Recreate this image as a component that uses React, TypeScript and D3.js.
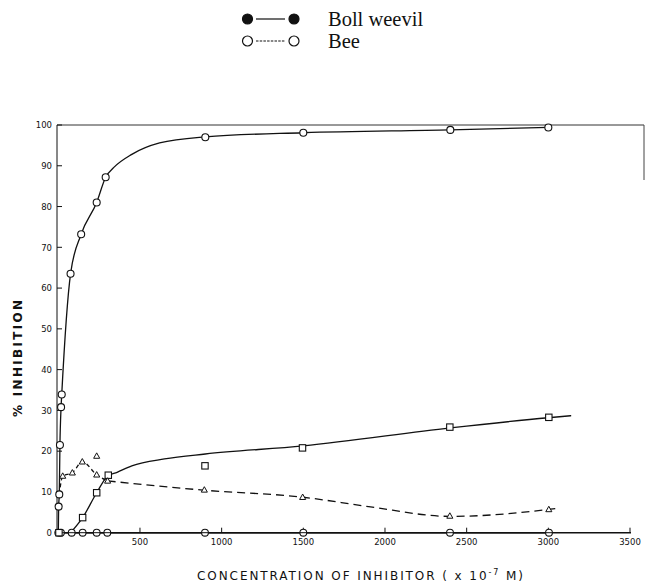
import * as React from "react";
import * as d3 from "d3";

// measured points (concentration x 10^-7 M, % inhibition)
const beeX = [2, 6, 10, 17, 21, 75, 140, 235, 290, 900, 1500, 2400, 3000];
const beeY = [6.4, 9.4, 21.5, 30.8, 33.9, 63.5, 73.2, 81, 87.2, 97.0, 98.1, 98.8, 99.4];
// hand drawn curve through the bee points
const beeFitX = [0, 2, 6, 10, 17, 21, 75, 140, 235, 290, 340, 450, 620, 900, 1500, 2400, 3000];
const beeFitY = [0, 6.4, 9.4, 21.5, 30.8, 33.9, 63.5, 73.2, 81, 87.2, 89.6, 92.8, 95.6, 97.1, 98.1, 98.8, 99.4];

const zeroX = [0, 16, 82, 149, 235, 300, 898, 1500, 2398, 3004];
const zeroY = [0, 0, 0, 0, 0, 0, 0, 0, 0, 0];

const squareX = [4, 149, 235, 306, 898, 1495, 2397, 3003];
const squareY = [0, 3.7, 9.8, 14.1, 16.4, 20.8, 25.9, 28.3];
const squareFitX = [75, 149, 235, 300, 360, 450, 650, 900, 1500, 2400, 3000, 3140];
const squareFitY = [0, 3.7, 9.8, 13.8, 14.8, 16.4, 18.1, 19.3, 21.3, 25.7, 28.2, 28.7];

const triX = [27, 86, 147, 235, 235, 302, 894, 1496, 2397, 3003];
const triY = [13.9, 14.7, 17.4, 18.8, 14.2, 12.7, 10.5, 8.7, 4.1, 5.7];
const triFitX = [302, 600, 900, 1500, 1900, 2400, 3000, 3060];
const triFitY = [12.7, 11.5, 10.4, 8.7, 6.4, 4.0, 5.7, 6.0];
const triLeadX = [6, 27, 86, 147, 235, 302];
const triLeadY = [9.4, 13.9, 14.7, 17.4, 14.2, 12.7];

const xTicks = [500, 1000, 1500, 2000, 2500, 3000, 3500];
const yTicks = [0, 10, 20, 30, 40, 50, 60, 70, 80, 90, 100];

const legendItems = ["Boll weevil", "Bee"];

const ink = "#111";

export default function App() {
  const x = d3.scaleLinear().domain([0, 3500]).range([58.3, 630]);
  const y = d3.scaleLinear().domain([0, 100]).range([532.7, 125]);

  const toPts = (xs: number[], ys: number[]) => xs.map((v, i) => [v, ys[i]] as [number, number]);
  const line = d3
    .line<[number, number]>()
    .x((d) => x(d[0]))
    .y((d) => y(d[1]))
    .curve(d3.curveMonotoneX);

  const tri = (cx: number, cy: number, s: number) =>
    `M${cx},${cy - s} L${cx + s * 0.95},${cy + s * 0.7} L${cx - s * 0.95},${cy + s * 0.7} Z`;

  return (
    <svg
      width={645}
      height={583}
      style={{ position: "absolute", left: 0, top: 0, background: "#fff" }}
    >
      {/* legend */}
      {legendItems.map((name, i) => {
        const ly = 19 + i * 22;
        const filled = i === 0;
        return (
          <g key={name}>
            <line
              x1={256}
              x2={285}
              y1={ly}
              y2={ly}
              stroke={ink}
              strokeWidth={1.2}
              strokeDasharray={filled ? undefined : "2.5,1.2"}
            />
            <circle cx={247.5} cy={ly} r={5} fill={filled ? ink : "#fff"} stroke={ink} strokeWidth={1.2} />
            <circle cx={294} cy={ly} r={5} fill={filled ? ink : "#fff"} stroke={ink} strokeWidth={1.2} />
            <text
              x={328}
              y={ly + 7}
              fontFamily="Liberation Serif, serif"
              fontSize={20.5}
              fill={ink}
            >
              {name}
            </text>
          </g>
        );
      })}

      {/* frame */}
      <line x1={57} x2={644} y1={y(100)} y2={y(100)} stroke="#333" strokeWidth={1} />
      <line x1={644} x2={644} y1={y(100)} y2={180} stroke="#444" strokeWidth={1} />
      <line x1={57} x2={57} y1={y(100)} y2={y(0)} stroke={ink} strokeWidth={1} />
      <line x1={57} x2={631} y1={y(0)} y2={y(0)} stroke={ink} strokeWidth={1.6} />

      {/* y ticks */}
      {yTicks.map((t) => (
        <g key={t}>
          <line x1={57} x2={62} y1={y(t)} y2={y(t)} stroke={ink} strokeWidth={1} />
          <text
            x={52}
            y={y(t) + 3.2}
            textAnchor="end"
            fontFamily="DejaVu Sans, sans-serif"
            fontSize={8.5}
            fill={ink}
          >
            {t}
          </text>
        </g>
      ))}

      {/* x ticks */}
      {xTicks.map((t) => (
        <g key={t}>
          <line x1={x(t)} x2={x(t)} y1={y(0)} y2={y(0) - 5} stroke={ink} strokeWidth={1} />
          <text
            x={x(t)}
            y={y(0) + 12}
            textAnchor="middle"
            fontFamily="DejaVu Sans, sans-serif"
            fontSize={8.5}
            fill={ink}
          >
            {t}
          </text>
        </g>
      ))}

      {/* axis titles */}
      <text
        x={197}
        y={580}
        textLength={326}
        lengthAdjust="spacing"
        fontFamily="DejaVu Sans, sans-serif"
        fontSize={12}
        fill={ink}
      >
        CONCENTRATION  OF  INHIBITOR   ( x 10
        <tspan dy={-5} fontSize={8}>-7</tspan>
        <tspan dy={5}> M)</tspan>
      </text>
      <text
        transform="translate(22,417) rotate(-90)"
        textLength={117}
        lengthAdjust="spacing"
        fontFamily="DejaVu Sans, sans-serif"
        fontWeight="bold"
        fontSize={12}
        fill={ink}
      >
        %  INHIBITION
      </text>

      {/* curves */}
      <path d={line(toPts(beeFitX, beeFitY)) || ""} fill="none" stroke={ink} strokeWidth={1.3} />
      <path d={line(toPts(squareFitX, squareFitY)) || ""} fill="none" stroke={ink} strokeWidth={1.3} />
      <path
        d={line(toPts(triLeadX, triLeadY)) || ""}
        fill="none"
        stroke={ink}
        strokeWidth={1.3}
        strokeDasharray="4,3"
      />
      <path
        d={line(toPts(triFitX, triFitY)) || ""}
        fill="none"
        stroke={ink}
        strokeWidth={1.3}
        strokeDasharray="8,5"
      />
      <path d={line(toPts(zeroX, zeroY)) || ""} fill="none" stroke={ink} strokeWidth={1.4} />

      {/* markers */}
      {zeroX.map((v, i) => (
        <g key={"z" + i}>
          <circle cx={x(v)} cy={y(zeroY[i])} r={3.4} fill="#fff" stroke={ink} strokeWidth={1.1} />
          <line x1={x(v) - 3.4} x2={x(v) + 3.4} y1={y(zeroY[i])} y2={y(zeroY[i])} stroke={ink} strokeWidth={1} />
        </g>
      ))}
      {beeX.map((v, i) => (
        <circle key={"b" + i} cx={x(v)} cy={y(beeY[i])} r={3.5} fill="#fff" stroke={ink} strokeWidth={1.1} />
      ))}
      {squareX.map((v, i) => (
        <rect
          key={"s" + i}
          x={x(v) - 3.2}
          y={y(squareY[i]) - 3.2}
          width={6.4}
          height={6.4}
          fill="#fff"
          stroke={ink}
          strokeWidth={1.1}
        />
      ))}
      {triX.map((v, i) => (
        <path key={"t" + i} d={tri(x(v), y(triY[i]), 3.2)} fill="#fff" stroke={ink} strokeWidth={1} />
      ))}
    </svg>
  );
}
